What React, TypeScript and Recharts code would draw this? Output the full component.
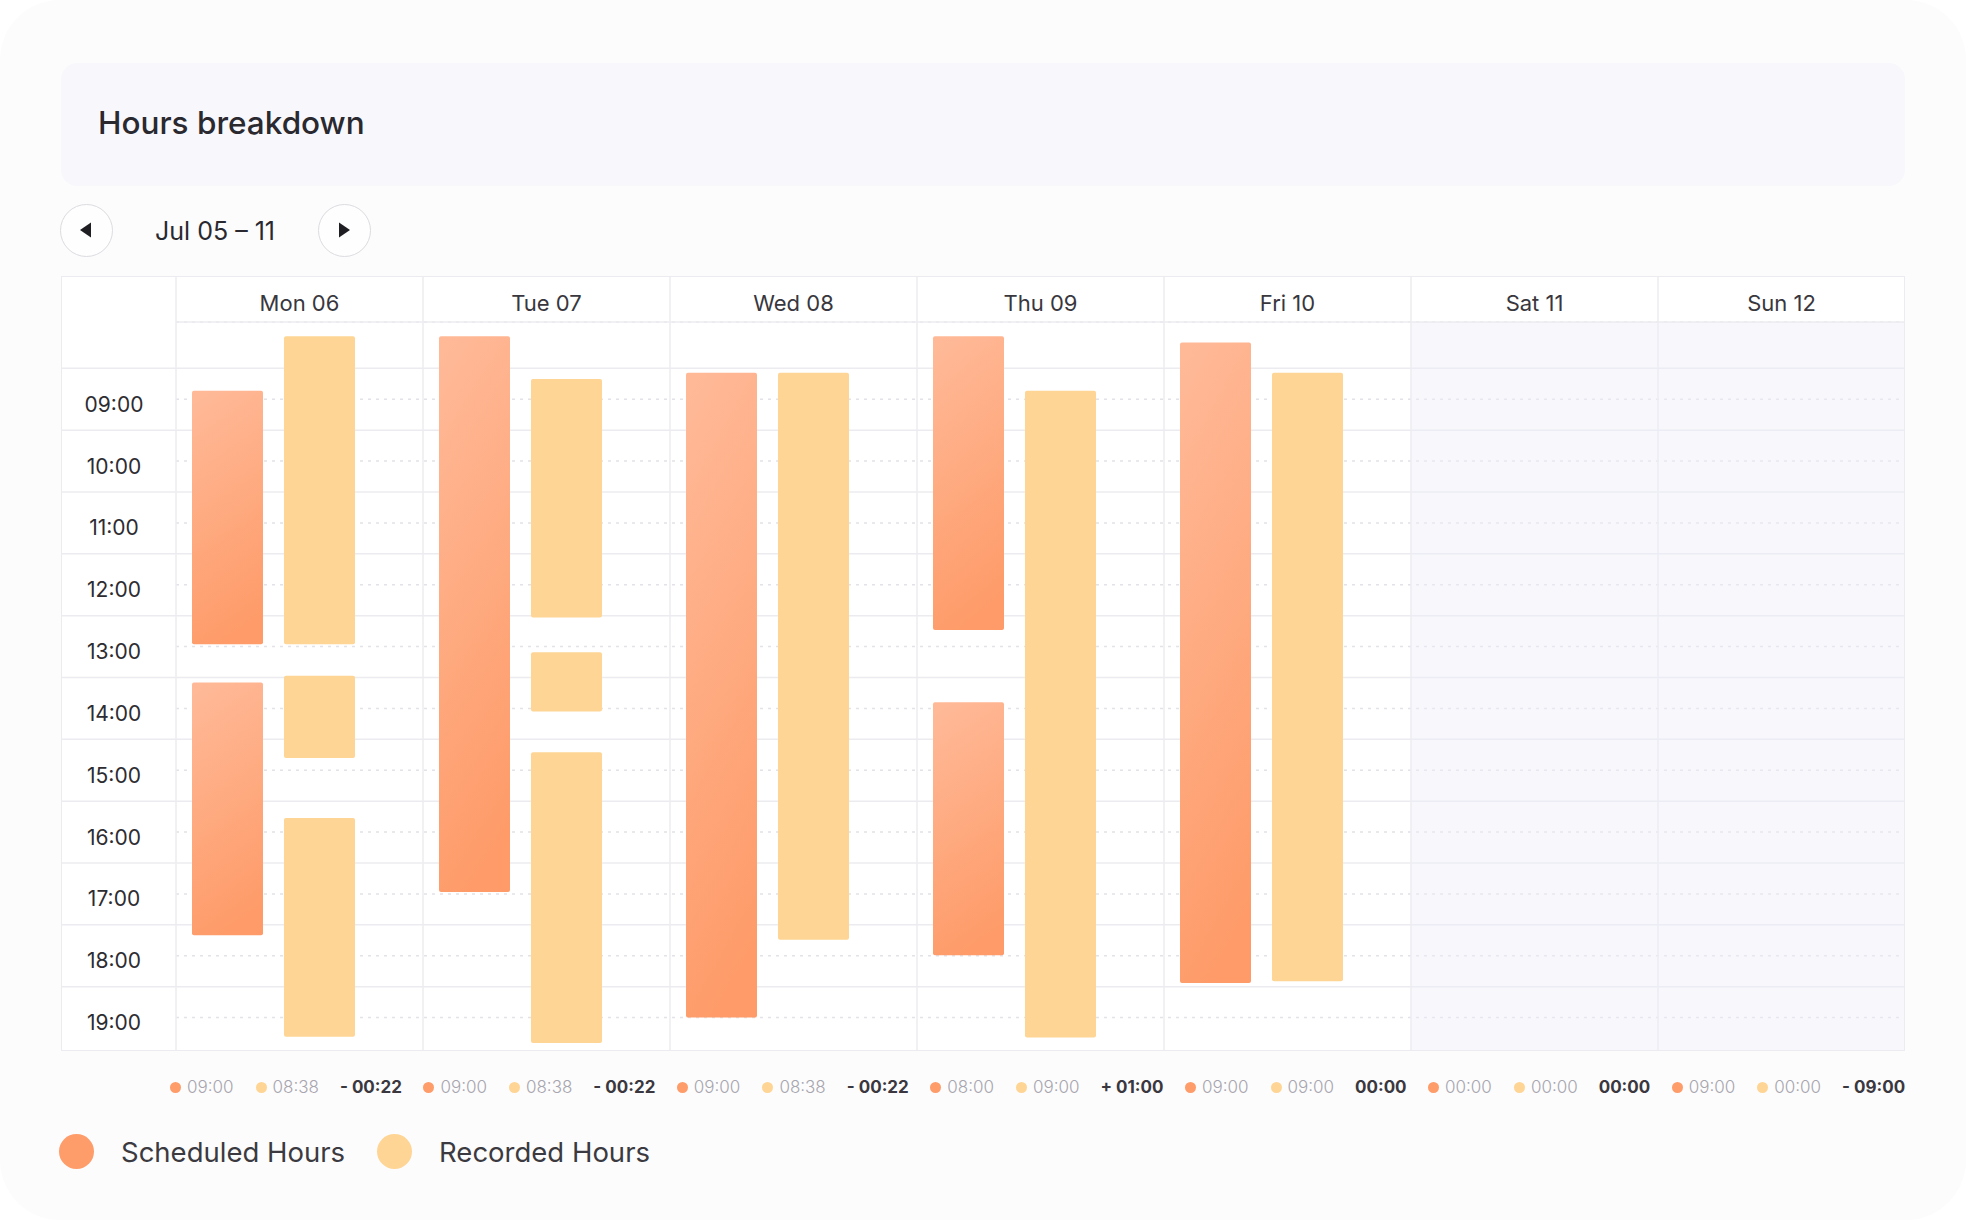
import React from 'react'
import { BarChart, Bar, XAxis, YAxis, CartesianGrid, ReferenceArea } from 'recharts'

const days = ['Mon 06', 'Tue 07', 'Wed 08', 'Thu 09', 'Fri 10', 'Sat 11', 'Sun 12']
const weekend = ['Sat 11', 'Sun 12']

// shift blocks per day, [start, end] in decimal hours
const scheduledShifts: number[][][] = [
  [[8.86, 12.96], [13.58, 17.67]],
  [[7.98, 16.97]],
  [[8.57, 19.0]],
  [[7.98, 12.73], [13.9, 17.99]],
  [[8.08, 18.44]],
  [],
  [],
]
const recordedShifts: number[][][] = [
  [[7.98, 12.96], [13.47, 14.8], [15.77, 19.31]],
  [[8.67, 12.53], [13.09, 14.05], [14.71, 19.41]],
  [[8.57, 17.74]],
  [[8.86, 19.32]],
  [[8.57, 18.41]],
  [],
  [],
]

// daily totals shown under the grid
const scheduledTotals = ['09:00', '09:00', '09:00', '08:00', '09:00', '00:00', '09:00']
const recordedTotals = ['08:38', '08:38', '08:38', '09:00', '09:00', '00:00', '00:00']
const differences = ['- 00:22', '- 00:22', '- 00:22', '+ 01:00', '00:00', '00:00', '- 09:00']

const hourTicks = [9, 10, 11, 12, 13, 14, 15, 16, 17, 18, 19]
const rowLines = [8.5, 9.5, 10.5, 11.5, 12.5, 13.5, 14.5, 15.5, 16.5, 17.5, 18.5]
const dayStart = 7.75
const dayEnd = 19.54

const SCHEDULED = '#fe9c6a'
const RECORDED = '#fed594'
const LINE = '#ececf0'
const FONT = 'Inter, "Noto Sans", sans-serif'

const CHART_W = 1844
const CHART_H = 775
const TIME_COL = 115
const HEADER_H = 46

const segments = [0, 1, 2]

const rows = days.map((day, i) => {
  const row: Record<string, unknown> = { day }
  segments.forEach((k) => {
    row[`s${k}`] = scheduledShifts[i][k]
    row[`r${k}`] = recordedShifts[i][k]
  })
  return row
})

// axis scale as handed to grid generators (plain d3 function or wrapped object)
function applyScale(axis: any, v: number | string) {
  const s = axis?.scale
  if (typeof s === 'function') return s(v)
  if (s && typeof s.map === 'function') return s.map(v)
  if (s && typeof s.apply === 'function') return s.apply(v)
  return NaN
}

function rowLineCoords({ yAxis, offset }: any) {
  return rowLines.map((h) => {
    const y = applyScale(yAxis, h)
    return Number.isFinite(y) ? y : offset.top + ((h - dayStart) / (dayEnd - dayStart)) * offset.height
  })
}

function columnLineCoords({ xAxis, offset }: any) {
  const band = offset.width / days.length
  return [...days, ''].map((d, i) => {
    const x = i < days.length ? applyScale(xAxis, d) : NaN
    return Number.isFinite(x) ? x : offset.left + i * band
  })
}

function DayTick({ x, y, payload }: any) {
  return (
    <text x={x} y={y - 19} textAnchor="middle" dominantBaseline="central"
      fontSize={22} fill="#38373d" fontFamily={FONT}>
      {payload.value}
    </text>
  )
}

function HourTick({ x, y, payload }: any) {
  const hh = String(payload.value).padStart(2, '0')
  return (
    <text x={x - 62} y={y + 5} textAnchor="middle" dominantBaseline="central"
      fontSize={21} fill="#2d2c31" fontFamily={FONT}>
      {`${hh}:00`}
    </text>
  )
}

function NavButton({ left, dir }: { left: number; dir: 'prev' | 'next' }) {
  return (
    <div style={{
      position: 'absolute', left, top: 204, width: 53, height: 53, boxSizing: 'border-box',
      borderRadius: '50%', border: '1.5px solid #dcdce1', background: '#fefefe',
    }}>
      <svg width={50} height={50} style={{ position: 'absolute', left: 0, top: 0 }}>
        {dir === 'prev'
          ? <polygon points="19,25 30,17.5 30,32.5" fill="#1f1e23" />
          : <polygon points="31,25 20,17.5 20,32.5" fill="#1f1e23" />}
      </svg>
    </div>
  )
}

function Dot({ color, size }: { color: string; size: number }) {
  return <span style={{ display: 'inline-block', width: size, height: size, borderRadius: '50%', background: color }} />
}

export default function App() {
  const bars = segments.flatMap((k) => [
    <Bar key={`s${k}`} xAxisId={k} dataKey={`s${k}`} barSize={71} fill="url(#schedFill)"
      radius={2} isAnimationActive={false} />,
    <Bar key={`r${k}`} xAxisId={k} dataKey={`r${k}`} barSize={71} fill={RECORDED}
      radius={2} isAnimationActive={false} />,
    // empty slot keeps the pair left-aligned in each day column
    <Bar key={`g${k}`} xAxisId={k} dataKey="gap" barSize={31} fill="none" isAnimationActive={false} />,
  ])

  return (
    <div style={{ position: 'absolute', left: 0, top: 0, width: 1966, height: 1220, background: '#ffffff', fontFamily: FONT }}>
      <div style={{ position: 'absolute', inset: 0, background: '#fcfcfd', borderRadius: 60 }} />

      <div style={{
        position: 'absolute', left: 61, top: 63, width: 1844, height: 123,
        background: '#f8f8fc', borderRadius: 16,
      }} />
      <div style={{ position: 'absolute', left: 98, top: 103, fontSize: 31.5, fontWeight: 500, color: '#2a2930', lineHeight: '40px' }}>
        Hours breakdown
      </div>

      <NavButton left={60} dir="prev" />
      <div style={{ position: 'absolute', left: 155, top: 215, fontSize: 25, color: '#2a2930', lineHeight: '32px' }}>
        Jul 05 – 11
      </div>
      <NavButton left={318} dir="next" />

      <div style={{ position: 'absolute', left: 61, top: 276, width: CHART_W, height: CHART_H, background: '#ffffff' }}>
        <BarChart width={CHART_W} height={CHART_H} data={rows} barGap={21}
          margin={{ top: 0, right: 0, bottom: 0, left: 0 }}>
          <defs>
            <linearGradient id="schedFill" x1="0.2" y1="0" x2="0.4" y2="1">
              <stop offset="0%" stopColor="#ffb997" />
              <stop offset="100%" stopColor="#fe9b69" />
            </linearGradient>
          </defs>

          {/* half-hour row separators, running through the time column */}
          <CartesianGrid vertical={false} x={0} width={CHART_W} stroke={LINE} strokeWidth={1.5}
            horizontalCoordinatesGenerator={rowLineCoords} />
          {/* dotted hour lines */}
          <CartesianGrid vertical={false} stroke="#e2e2e8" strokeWidth={1.5} strokeDasharray="3 5" />
          {/* day column separators, up through the header row */}
          <CartesianGrid horizontal={false} y={0} height={CHART_H} stroke={LINE} strokeWidth={1.5}
            verticalCoordinatesGenerator={columnLineCoords} />

          <ReferenceArea xAxisId={0} x1={weekend[0]} x2={weekend[1]} fill="#eeeef8"
            fillOpacity={0.45} stroke="none" />

          <XAxis xAxisId={0} dataKey="day" orientation="top" height={HEADER_H}
            axisLine={{ stroke: LINE, strokeWidth: 1.5 }} tickLine={false}
            tickSize={0} tickMargin={0} tick={<DayTick />} interval={0} />
          <XAxis xAxisId={1} dataKey="day" hide />
          <XAxis xAxisId={2} dataKey="day" hide />
          <YAxis type="number" width={TIME_COL} domain={[dayStart, dayEnd]} reversed
            allowDataOverflow ticks={hourTicks} interval={0} axisLine={false} tickLine={false}
            tickSize={0} tickMargin={0} tick={<HourTick />} />

          {bars}
        </BarChart>
      </div>
      <div style={{
        position: 'absolute', left: 61, top: 276, width: CHART_W, height: CHART_H,
        boxSizing: 'border-box', border: `1.5px solid ${LINE}`, pointerEvents: 'none',
      }} />

      <div style={{
        position: 'absolute', left: 170, top: 1073, height: 28, display: 'flex', gap: 21.5,
        alignItems: 'center', fontSize: 17, lineHeight: '28px', whiteSpace: 'nowrap',
      }}>
        {days.map((d, i) => (
          <div key={d} style={{ display: 'flex', alignItems: 'center' }}>
            <Dot color={SCHEDULED} size={11} />
            <span style={{ marginLeft: 6, color: '#a7a5ad', fontWeight: 300 }}>{scheduledTotals[i]}</span>
            <span style={{ marginLeft: 22, display: 'flex' }}><Dot color={RECORDED} size={11} /></span>
            <span style={{ marginLeft: 6, color: '#a7a5ad', fontWeight: 300 }}>{recordedTotals[i]}</span>
            <span style={{ marginLeft: 21, color: '#3a383e', fontWeight: 700 }}>{differences[i]}</span>
          </div>
        ))}
      </div>

      <div style={{ position: 'absolute', left: 59, top: 1134, display: 'flex', alignItems: 'center', fontSize: 27.5, color: '#3b3a40' }}>
        <Dot color={SCHEDULED} size={35} />
        <span style={{ marginLeft: 27 }}>Scheduled Hours</span>
        <span style={{ marginLeft: 32, display: 'flex' }}><Dot color={RECORDED} size={35} /></span>
        <span style={{ marginLeft: 27 }}>Recorded Hours</span>
      </div>
    </div>
  )
}
